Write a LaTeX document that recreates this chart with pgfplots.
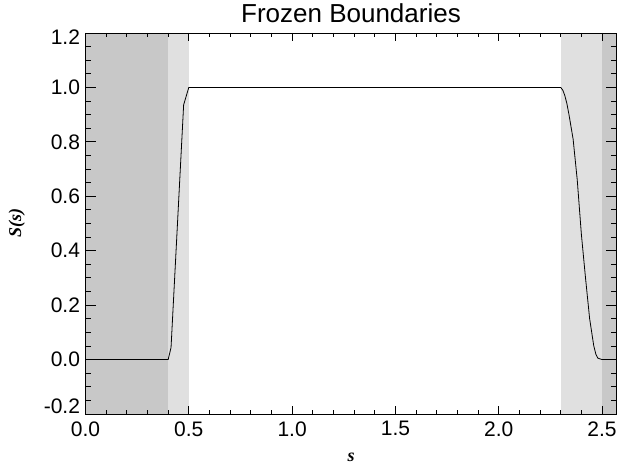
\documentclass[border=0pt]{standalone}
\usepackage{fontspec}
\setmainfont{Liberation Sans}
\newfontfamily\labelfont{Liberation Serif}
\usepackage{pgfplots}
\pgfplotsset{compat=1.18}
\definecolor{frozendark}{RGB}{200,200,200}
\definecolor{frozenlight}{RGB}{224,224,224}
\begin{document}
\begin{tikzpicture}
\begin{axis}[
  scale only axis, width=531pt, height=381pt,
  xmin=0, xmax=2.57, ymin=-0.2, ymax=1.2,
  axis on top,
  xtick={0,0.5,1,1.5,2,2.5},
  xticklabels={0.0,0.5,1.0,1.5,2.0,2.5},
  ytick={-0.2,0,0.2,0.4,0.6,0.8,1.0,1.2},
  yticklabels={\smash{-0.2},0.0,0.2,0.4,0.6,0.8,1.0,\smash{\raisebox{-12pt}{1.2}}},
  minor x tick num=4, minor y tick num=3,
  tick align=inside,
  xtick style={/pgfplots/major tick length=7.6pt, /pgfplots/minor tick length=3.8pt},
  ytick style={/pgfplots/major tick length=10.6pt, /pgfplots/minor tick length=5.3pt},
  every tick/.append style={black, line width=0.9pt},
  axis line style={line width=0.9pt},
  tick label style={font=\fontsize{21}{23}\selectfont},
  xticklabel style={yshift=-4pt},
  yticklabel style={xshift=-2pt},
  title={Frozen Boundaries},
  title style={font=\fontsize{26}{28}\selectfont, yshift=1pt},
  xlabel={\labelfont\bfseries\itshape s},
  ylabel={\labelfont\bfseries\itshape S(s)},
  label style={font=\fontsize{18}{20}\selectfont},
  xlabel style={yshift=-10pt},
  ylabel style={yshift=12pt},
]
\addplot[fill=frozendark, draw=none] coordinates {(0,-0.2) (0.4,-0.2) (0.4,1.2) (0,1.2)} -- cycle;
\addplot[fill=frozenlight, draw=none] coordinates {(0.4,-0.2) (0.5,-0.2) (0.5,1.2) (0.4,1.2)} -- cycle;
\addplot[fill=frozenlight, draw=none] coordinates {(2.3,-0.2) (2.5,-0.2) (2.5,1.2) (2.3,1.2)} -- cycle;
\addplot[fill=frozendark, draw=none] coordinates {(2.5,-0.2) (2.57,-0.2) (2.57,1.2) (2.5,1.2)} -- cycle;
\addplot[black, line width=0.8pt, mark=none] coordinates {
  (0,0) (0.40,0) (0.414,0.044) (0.475,0.936) (0.50,1.0)
  (2.30,1.0) (2.31,0.99) (2.32,0.97) (2.33,0.94) (2.34,0.90)
  (2.36,0.81) (2.38,0.66) (2.40,0.46) (2.42,0.30) (2.44,0.15)
  (2.46,0.05) (2.47,0.02) (2.48,0.005) (2.50,0) (2.57,0)
};
\end{axis}
\pgfresetboundingbox
\path[use as bounding box] ([shift={(-85.5pt,-51pt)}]current axis.south west) rectangle ([shift={(1.5pt,33pt)}]current axis.north east);
\end{tikzpicture}
\end{document}
